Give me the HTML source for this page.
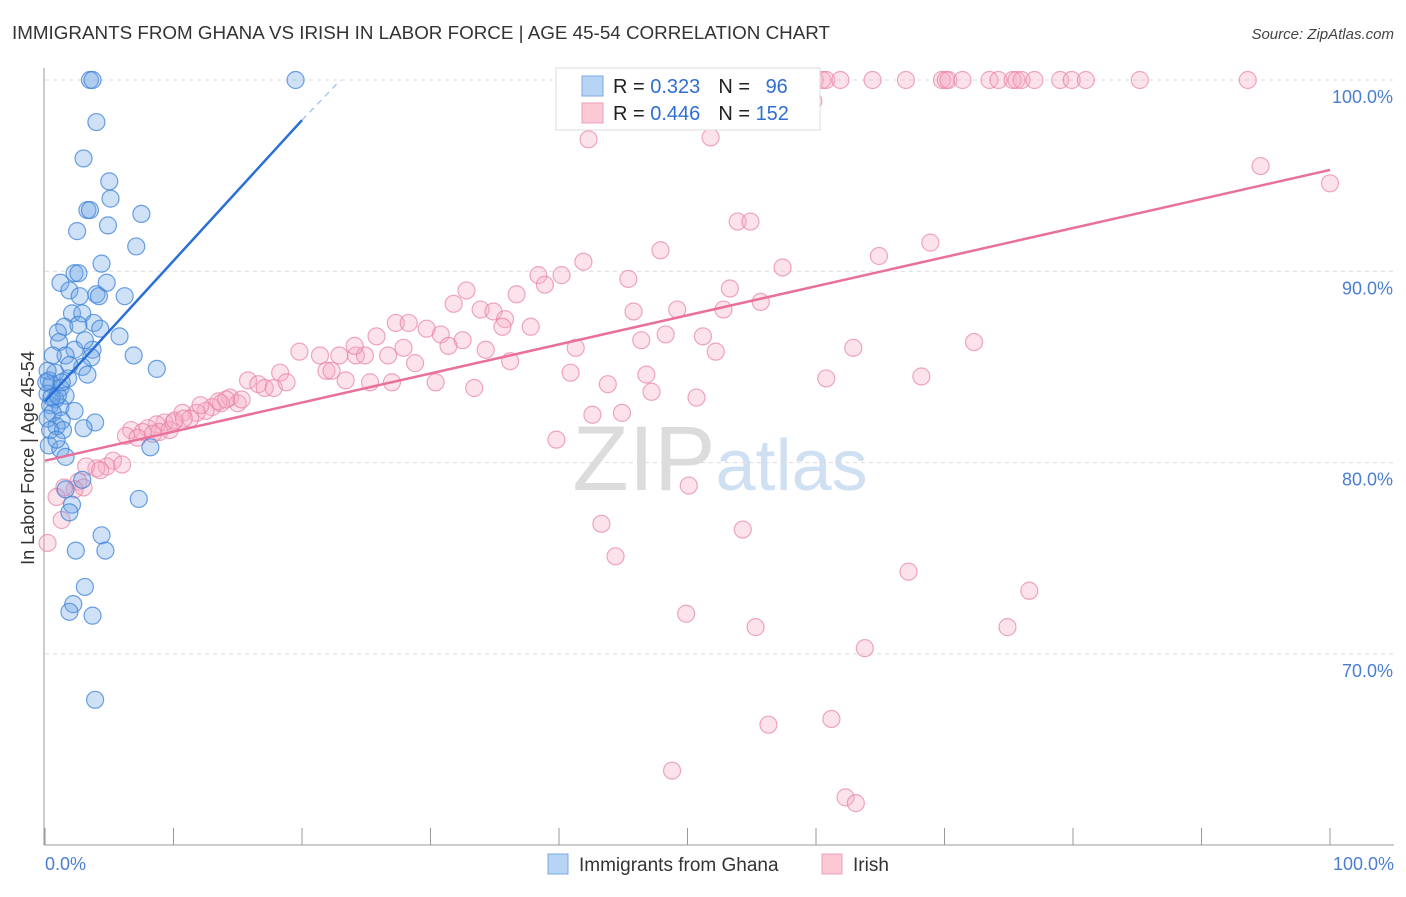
<!DOCTYPE html>
<html><head><meta charset="utf-8">
<style>
body{margin:0;background:#fff;font-family:"Liberation Sans",sans-serif;}
svg text{font-family:"Liberation Sans",sans-serif;}
</style></head>
<body>
<svg id="chart" width="1406" height="892" viewBox="0 0 1406 892" xmlns="http://www.w3.org/2000/svg">
<text x="12" y="39" font-size="18" fill="#333" textLength="818" lengthAdjust="spacingAndGlyphs">IMMIGRANTS FROM GHANA VS IRISH IN LABOR FORCE | AGE 45-54 CORRELATION CHART</text>
<text x="1394" y="39" font-size="15" fill="#444" text-anchor="end" font-style="italic">Source: ZipAtlas.com</text>
<text x="720" y="490" font-size="92" fill="#e4e4e4" text-anchor="middle" font-family="Liberation Serif"><tspan fill="#dcdcdc">ZIP</tspan><tspan fill="#cfe0f2" font-family="Liberation Sans" font-size="72">atlas</tspan></text>
<g id="grid"></g>
<g id="axes"></g>
<g id="marks"></g>
<text transform="translate(34,458) rotate(-90)" font-size="18" fill="#333" text-anchor="middle">In Labor Force | Age 45-54</text>
<text x="45" y="870" font-size="18" fill="#4a7fd0">0.0%</text>
<text x="1394" y="870" font-size="18" fill="#4a7fd0" text-anchor="end">100.0%</text>
<g>
<rect x="556" y="68" width="264" height="62" fill="#fff" stroke="#ddd"/>
<rect x="582" y="76" width="21" height="20" fill="#b8d4f5" stroke="#7aaae6"/>
<rect x="582" y="103" width="21" height="20" fill="#fbc8d6" stroke="#eda0b8"/>
<text x="613" y="93" font-size="20" fill="#222">R = <tspan fill="#2f6fd0"> 0.323</tspan><tspan dx="18">N = </tspan><tspan fill="#2f6fd0" dx="10">96</tspan></text>
<text x="613" y="120" font-size="20" fill="#222">R = <tspan fill="#2f6fd0">0.446</tspan><tspan dx="18">N = </tspan><tspan fill="#2f6fd0">152</tspan></text>
</g>
<g>
<rect x="548" y="854" width="20" height="20" fill="#b8d4f5" stroke="#7aaae6"/>
<text x="579" y="871" font-size="19" fill="#333">Immigrants from Ghana</text>
<rect x="822" y="854" width="20" height="20" fill="#fbc8d6" stroke="#eda0b8"/>
<text x="853" y="871" font-size="19" fill="#333">Irish</text>
</g>
</svg>
<script>
const yTicks=[100,90,80,70];
const yTickLabels=["100.0%","90.0%","80.0%","70.0%"];
const xTicks=[0,10,20,30,40,50,60,70,80,90,100];
const ghanaX=[3.5,3.7,19.5,4.0,3.0,5.0,5.1,3.3,3.5,7.5,4.9,2.5,7.1,4.4,2.3,2.6,1.2,1.9,4.0,4.2,6.2,2.7,4.8,2.1,2.9,3.8,1.5,2.6,1.0,4.3,5.8,1.1,3.7,2.3,1.6,6.9,3.6,2.9,3.3,8.7,0.6,0.8,1.8,0.3,0.5,1.2,0.2,1.6,0.8,0.4,1.2,2.3,0.6,0.2,1.3,3.9,3.0,0.9,1.4,0.3,1.2,8.2,1.6,2.9,1.6,2.1,1.9,7.3,4.4,2.4,4.7,3.1,2.2,1.9,3.7,3.9,0.4,0.9,0.2,0.5,1.0,0.1,1.3,1.9,3.1];
const ghanaY=[100,100,100,97.8,95.9,94.7,93.8,93.2,93.2,93.0,92.4,92.1,91.3,90.4,89.9,89.9,89.4,89.0,88.8,88.7,88.7,88.7,89.4,87.8,87.8,87.3,87.1,87.2,86.8,87.0,86.6,86.3,85.9,85.9,85.6,85.6,85.5,85.0,84.6,84.9,85.6,84.7,84.4,84.3,84.1,83.9,83.6,83.5,83.3,83.0,82.9,82.7,82.6,82.3,82.2,82.1,81.8,81.9,81.7,80.9,80.7,80.8,80.3,79.1,78.6,77.8,77.4,78.1,76.2,75.4,75.4,73.5,72.6,72.2,72.0,67.6,81.7,81.2,84.8,83.4,83.5,84.2,84.2,85.1,86.4];
const irishX=[58.8,59.4,59.9,60.5,60.8,61.9,64.4,67.0,69.8,70.1,70.3,71.4,73.5,74.2,75.3,75.6,76.0,77.0,79.0,79.9,81.0,85.2,93.6,59.8,42.3,51.8,94.6,100,53.9,54.9,47.9,68.9,64.9,57.4,41.9,38.4,38.9,40.2,45.4,32.8,36.7,53.3,55.7,31.8,33.9,45.8,49.2,34.9,35.8,52.8,37.8,35.6,27.3,28.3,29.7,25.8,30.8,32.5,31.4,34.3,41.3,46.4,48.3,51.2,52.2,62.9,72.3,19.8,21.4,22.9,24.2,24.9,24.1,26.7,27.9,28.8,36.2,21.9,22.3,18.3,15.8,16.6,17.1,17.8,18.8,23.4,27.0,25.3,30.4,33.4,40.9,43.8,46.8,47.2,60.8,68.2,14.4,15.0,15.3,13.7,13.0,12.5,11.8,10.7,11.3,10.0,9.3,8.7,8.0,6.7,7.6,8.9,9.7,6.3,7.2,8.4,10.1,10.8,12.1,13.5,14.1,50.7,42.6,44.9,39.8,5.3,4.8,6.0,4.0,3.2,4.3,2.6,3.0,2.3,1.5,0.9,1.3,0.2,50.1,43.3,54.3,44.4,67.2,76.6,49.9,55.3,74.9,63.8,56.3,61.2,48.8,62.3,63.1];
const irishY=[100,100,100,100,100,100,100,100,100,100,100,100,100,100,100,100,100,100,100,100,100,100,100,98.9,96.9,97.0,95.5,94.6,92.6,92.6,91.1,91.5,90.8,90.2,90.5,89.8,89.3,89.8,89.6,89.0,88.8,89.1,88.4,88.3,88.0,87.9,88.0,87.9,87.5,88.0,87.1,87.1,87.3,87.3,87.0,86.6,86.7,86.4,86.1,85.9,86.0,86.4,86.7,86.6,85.8,86.0,86.3,85.8,85.6,85.6,85.6,85.6,86.1,85.6,86.0,85.2,85.3,84.8,84.8,84.7,84.3,84.1,83.9,83.9,84.2,84.3,84.2,84.2,84.2,83.9,84.7,84.1,84.6,83.7,84.4,84.5,83.4,83.1,83.3,83.1,82.9,82.7,82.6,82.6,82.3,82.1,82.1,82.0,81.8,81.7,81.6,81.6,81.7,81.4,81.3,81.5,82.2,82.3,83.0,83.2,83.3,83.4,82.5,82.6,81.2,80.1,79.8,79.9,79.7,79.8,79.6,79.0,78.7,78.6,78.7,78.2,77.0,75.8,78.8,76.8,76.5,75.1,74.3,73.3,72.1,71.4,71.4,70.3,66.3,66.6,63.9,62.5,62.2];
const ghanaTrend=[[0,83.2],[20,97.9],[23,100]];
const irishTrend=[[0,80.1],[100,95.3]];

const NS="http://www.w3.org/2000/svg";
const X=v=>45+v*12.85;
const Y=v=>80+(100-v)*19.13;
function mk(tag,attrs,parent){const e=document.createElementNS(NS,tag);for(const k in attrs)e.setAttribute(k,attrs[k]);parent.appendChild(e);return e;}
const grid=document.getElementById('grid'),axes=document.getElementById('axes'),marks=document.getElementById('marks');
yTicks.forEach((t,i)=>{
  const l=mk('line',{x1:45,x2:1394,y1:Y(t),y2:Y(t),stroke:'#dcdcdc','stroke-dasharray':'4,4'},grid);
  
  
  const tx=mk('text',{x:1393,y:Y(t)+23,'font-size':18,fill:'#4a7fd0','text-anchor':'end'},axes);
  tx.textContent=yTickLabels[i];
  
  
});
const ya=mk('line',{x1:44,x2:44,y1:68,y2:845,stroke:'#999'},axes);


const xa=mk('line',{x1:44,x2:1394,y1:845,y2:845,stroke:'#999'},axes);


xTicks.forEach(t=>{
  const l=mk('line',{x1:X(t),x2:X(t),y1:828,y2:845,stroke:'#999'},axes);
  
  
});
function dots(xs,ys,fill,stroke,name){
  xs.forEach((x,i)=>{
    const c=mk('circle',{cx:X(x),cy:Y(ys[i]),r:8.5,fill:fill,stroke:stroke,'stroke-width':1.2},marks);
    
    
  });
}
dots(irishX,irishY,'rgba(246,170,195,0.33)','rgba(232,130,165,0.7)','irish-point');
dots(ghanaX,ghanaY,'rgba(110,165,230,0.33)','rgba(60,130,215,0.75)','ghana-point');
const g1=mk('line',{x1:X(ghanaTrend[0][0]),y1:Y(ghanaTrend[0][1]),x2:X(ghanaTrend[1][0]),y2:Y(ghanaTrend[1][1]),stroke:'#2a6fd6','stroke-width':2.5},marks);


const g2=mk('line',{x1:X(ghanaTrend[1][0]),y1:Y(ghanaTrend[1][1]),x2:X(ghanaTrend[2][0]),y2:Y(ghanaTrend[2][1]),stroke:'#9bbce8','stroke-width':1.2,'stroke-dasharray':'6,5'},marks);


const p1=mk('line',{x1:X(irishTrend[0][0]),y1:Y(irishTrend[0][1]),x2:X(irishTrend[1][0]),y2:Y(irishTrend[1][1]),stroke:'#e8709a','stroke-width':2.5},marks);


</script>
</body></html>
